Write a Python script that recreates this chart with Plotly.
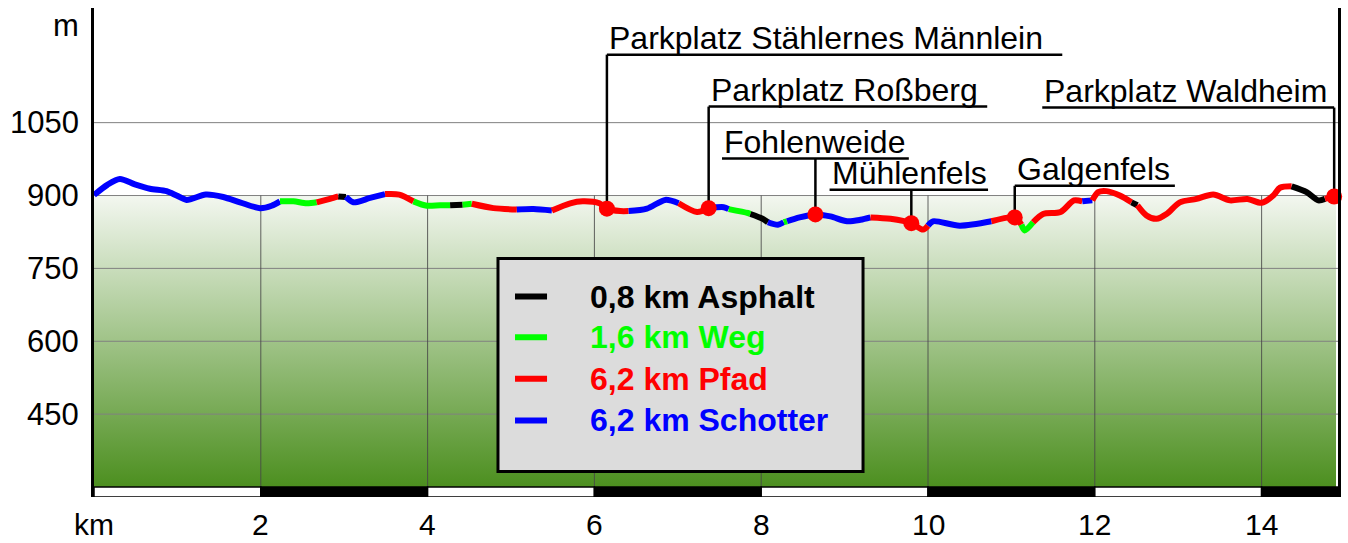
import plotly.graph_objects as go

# ---------------- data ----------------
km = [0.00, 0.16, 0.31, 0.49, 0.67, 0.87, 0.99, 1.11, 1.34, 1.55, 1.75, 1.99, 2.13,
      2.23, 2.39, 2.55, 2.67, 2.83, 2.93, 3.02, 3.11, 3.31, 3.49, 3.66, 3.83, 3.99,
      4.15, 4.27, 4.42, 4.53, 4.79, 5.07, 5.27, 5.49, 5.71, 5.86, 6.06, 6.15, 6.31,
      6.41, 6.63, 6.85, 7.01, 7.23, 7.37, 7.55, 7.61, 7.84, 7.87, 8.02, 8.08, 8.20,
      8.27, 8.31, 8.46, 8.65, 8.83, 9.03, 9.19, 9.31, 9.55, 9.80, 9.94, 10.00, 10.06,
      10.38, 10.76, 11.04, 11.12, 11.16, 11.26, 11.38, 11.59, 11.75, 11.85, 11.97,
      12.04, 12.14, 12.30, 12.44, 12.51, 12.62, 12.74, 12.86, 13.02, 13.22, 13.42,
      13.62, 13.83, 14.00, 14.14, 14.22, 14.36, 14.54, 14.68, 14.76, 14.87]
elev = [901, 922, 934, 923, 914, 909, 900, 891, 902, 897, 886, 874, 879,
        888, 888, 884, 886, 893, 898, 897, 886, 895, 903, 902, 888, 879,
        880, 880, 881, 883, 874, 871, 872, 869, 884, 888, 884, 873, 868,
        868, 873, 891, 884, 866, 874, 876, 872, 864, 862, 852, 845, 840,
        845, 847, 855, 861, 857, 847, 850, 855, 852, 843, 830, 838, 847,
        838, 847, 855, 840, 828, 845, 862, 866, 890, 888, 890,
        907, 909, 900, 886, 880, 859, 852, 862, 886, 893, 902,
        890, 893, 885, 900, 916, 919, 907, 890, 893, 898]
# surface of the stretch that starts at each point (A=Asphalt, G=Weg, R=Pfad, B=Schotter)
surface = ["B", "B", "B", "B", "B", "B", "B", "B", "B", "B", "B", "B", "B",
           "G", "G", "G", "R", "R", "A", "B", "B", "B", "R", "R", "G", "G",
           "G", "A", "G", "R", "R", "B", "B", "R", "R", "R", "R", "R", "R",
           "B", "B", "B", "R", "R", "B", "B", "G", "G", "A", "A", "B", "B",
           "G", "B", "B", "B", "B", "B", "B", "R", "R", "R", "R", "B", "B",
           "B", "R", "R", "G", "G", "R", "R", "R", "R", "B", "R",
           "R", "R", "R", "A", "R", "R", "R", "R", "R", "R", "R",
           "R", "R", "R", "R", "R", "A", "A", "A", "R", "R"]

legend_codes = ["A", "G", "R", "B"]
legend_labels = ["0,8 km Asphalt", "1,6 km Weg", "6,2 km Pfad", "6,2 km Schotter"]
surface_colors = {"A": "#000000", "G": "#00ff00", "R": "#ff0000", "B": "#0000ff"}

place_names = ["Parkplatz Stählernes Männlein", "Parkplatz Roßberg", "Fohlenweide",
               "Mühlenfels", "Galgenfels", "Parkplatz Waldheim"]
place_km = [6.15, 7.37, 8.65, 9.80, 11.04, 14.87]
place_elev = [873, 874, 861, 843, 855, 898]

x_ticks = [2, 4, 6, 8, 10, 12, 14]
y_ticks = [450, 600, 750, 900, 1050]

# ---------------- layout constants ----------------
X_MAX = 14.916
Y_MIN, Y_MAX = 279.4, 1286
FILL_BOTTOM, FILL_TOP, FILL_RIGHT = 300, 900, 14.892
label_elev = [1190, 1083, 976, 912, 920, 1081]
label_x0 = [6.15, 7.37, 7.53, 8.82, 11.04, 11.37]
label_x1 = [11.61, 10.71, 9.77, 10.72, 12.96, 14.87]
FONT = "Liberation Sans, Arial, sans-serif"

fig = go.Figure()

# gradient background block
fig.add_trace(go.Scatter(
    x=[0, FILL_RIGHT, FILL_RIGHT, 0, 0],
    y=[FILL_BOTTOM, FILL_BOTTOM, FILL_TOP, FILL_TOP, FILL_BOTTOM],
    mode="lines", line=dict(width=0), fill="toself",
    fillgradient=dict(type="vertical", start=FILL_BOTTOM, stop=FILL_TOP,
                      colorscale=[[0, "#4c8f1f"], [1, "#f3f7f0"]]),
    hoverinfo="skip", showlegend=False))

# grid lines
gx, gy = [], []
for v in y_ticks:
    gx += [0, X_MAX, None]
    gy += [v, v, None]
fig.add_trace(go.Scatter(x=gx, y=gy, mode="lines",
                         line=dict(color="#808080", width=1),
                         hoverinfo="skip", showlegend=False))
vx, vy = [], []
for t in x_ticks:
    vx += [t, t, None]
    vy += [FILL_BOTTOM, FILL_TOP, None]
fig.add_trace(go.Scatter(x=vx, y=vy, mode="lines",
                         line=dict(color="rgba(70,70,70,0.85)", width=1),
                         hoverinfo="skip", showlegend=False))

# profile, one trace per surface stretch
start = 0
n = len(km)
while start < n - 1:
    code = surface[start]
    end = start + 1
    while end < n - 1 and surface[end] == code:
        end += 1
    fig.add_trace(go.Scatter(
        x=km[start:end + 1], y=elev[start:end + 1], mode="lines",
        line=dict(color=surface_colors[code], width=6, shape="spline", smoothing=0.8),
        hoverinfo="skip", showlegend=False))
    start = end

# label leader lines
lx, ly = [], []
for i in range(len(place_names)):
    lx += [label_x0[i], label_x1[i], None, place_km[i], place_km[i], None]
    ly += [label_elev[i], label_elev[i], None, label_elev[i], place_elev[i], None]
fig.add_trace(go.Scatter(x=lx, y=ly, mode="lines",
                         line=dict(color="black", width=2.5),
                         hoverinfo="skip", showlegend=False))
fig.add_trace(go.Scatter(x=place_km, y=place_elev, mode="markers", cliponaxis=False,
                         marker=dict(color="#ff0000", size=16),
                         hoverinfo="skip", showlegend=False))

# scale bar
edges = [0] + x_ticks + [X_MAX]
for i in range(len(edges) - 1):
    col = "black" if i % 2 == 1 else "white"
    a, b = edges[i], edges[i + 1]
    fig.add_trace(go.Scatter(x=[a, b, b, a, a], y=[Y_MIN, Y_MIN, FILL_BOTTOM, FILL_BOTTOM, Y_MIN],
                             mode="lines", line=dict(color="black", width=1.5),
                             fill="toself", fillcolor=col,
                             hoverinfo="skip", showlegend=False))

shapes = []
annotations = []

# legend box
LEG_X0, LEG_X1, LEG_Y0, LEG_Y1 = 4.844, 9.221, 332, 770.4
shapes.append(dict(type="rect", xref="x", yref="y", x0=LEG_X0, x1=LEG_X1, y0=LEG_Y0, y1=LEG_Y1,
                   fillcolor="#dcdcdc", line=dict(color="black", width=3), layer="above"))
legend_row_elev = [692, 608, 523, 437]
for code, lab, ye in zip(legend_codes, legend_labels, legend_row_elev):
    shapes.append(dict(type="line", xref="x", yref="y", x0=5.048, x1=5.432, y0=ye, y1=ye,
                       line=dict(color=surface_colors[code], width=6), layer="above"))
    annotations.append(dict(x=5.923, y=ye, xref="x", yref="y", xanchor="left", yanchor="middle",
                            text="<b>" + lab + "</b>", showarrow=False,
                            font=dict(family=FONT, size=32, color=surface_colors[code])))

# place labels
for i, name in enumerate(place_names):
    annotations.append(dict(x=label_x0[i], y=label_elev[i], xref="x", yref="y",
                            xanchor="left", yanchor="bottom", text=name, showarrow=False,
                            font=dict(family=FONT, size=32, color="black"), yshift=-3))

# tick labels
for v in y_ticks:
    annotations.append(dict(x=0, y=v, xref="x", yref="y", xanchor="right", yanchor="middle",
                            xshift=-13, text=str(v), showarrow=False,
                            font=dict(family=FONT, size=31, color="black")))
for t in x_ticks:
    annotations.append(dict(x=t, y=Y_MIN, xref="x", yref="y", xanchor="center", yanchor="middle",
                            yshift=-27, text=str(t), showarrow=False,
                            font=dict(family=FONT, size=30, color="black")))
annotations.append(dict(x=0, y=Y_MIN, xref="x", yref="y", xanchor="center", yanchor="middle",
                        yshift=-27, text="km", showarrow=False,
                        font=dict(family=FONT, size=30, color="black")))
annotations.append(dict(x=0, y=1250, xref="x", yref="y", xanchor="right", yanchor="middle",
                        xshift=-13, text="m", showarrow=False,
                        font=dict(family=FONT, size=31, color="black")))

fig.update_layout(
    width=1348, height=543,
    margin=dict(l=94, r=10, t=8, b=46, autoexpand=False),
    paper_bgcolor="white", plot_bgcolor="white",
    showlegend=False,
    shapes=shapes, annotations=annotations,
    xaxis=dict(range=[0, X_MAX], showgrid=False, zeroline=False, showticklabels=False,
               showline=False, fixedrange=True),
    yaxis=dict(range=[Y_MIN, Y_MAX], showgrid=False, zeroline=False, showticklabels=False,
               showline=True, mirror=True, linecolor="black", linewidth=2.5, fixedrange=True),
)

fig.write_html("out.html", config={"displayModeBar": False},
               post_script="document.body.style.margin='0px';"
                           "document.body.style.overflow='hidden';")
